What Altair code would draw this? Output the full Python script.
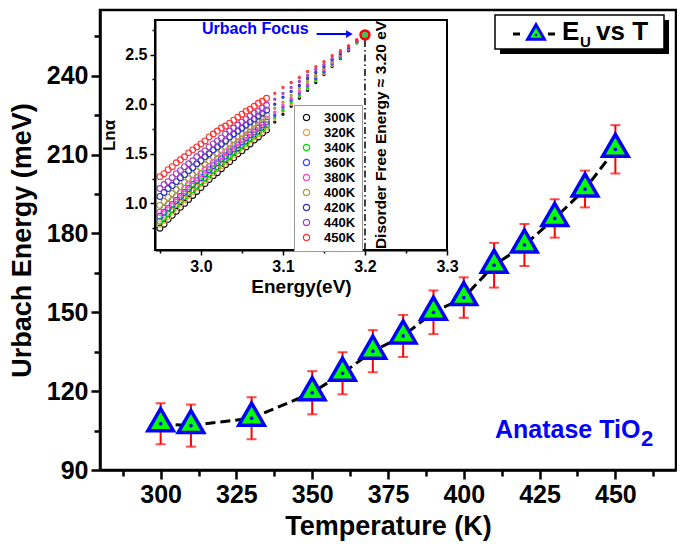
import altair as alt
import pandas as pd

# ---------------- main data ----------------
temperature = [300, 310, 330, 350, 360, 370, 380, 390, 400, 410, 420, 430, 440, 450]
urbach_energy = [107.6, 106.9, 109.7, 119.4, 126.8, 135.2, 141.0, 150.0, 155.6, 167.9, 175.6, 185.7, 196.9, 212.0]
urbach_err = [7.8, 8.0, 8.0, 8.2, 8.0, 8.0, 8.0, 8.3, 7.7, 8.5, 8.0, 7.3, 7.0, 9.2]

# ---------------- inset data ----------------
inset_labels = ["300K", "320K", "340K", "360K", "380K", "400K", "420K", "440K", "450K"]
inset_colors = ["#111111", "#F0A040", "#00E000", "#4040FF", "#FF40C0", "#A0A040", "#3030C0", "#A040C0", "#FF3030"]

energy_ev = [2.950, 2.955, 2.960, 2.965, 2.970, 2.975, 2.980, 2.985, 2.990, 2.995, 3.000, 3.005, 3.010,
             3.015, 3.020, 3.025, 3.030, 3.035, 3.040, 3.045, 3.050, 3.055, 3.060, 3.065, 3.070, 3.075, 3.080]
ln_300 = [0.75, 0.79, 0.84, 0.88, 0.92, 0.96, 1.00, 1.04, 1.08, 1.12, 1.16, 1.20, 1.24, 1.28, 1.31, 1.35, 1.39, 1.42, 1.46, 1.50, 1.53, 1.57, 1.60, 1.64, 1.67, 1.71, 1.74]
ln_320 = [0.79, 0.83, 0.87, 0.92, 0.96, 1.00, 1.04, 1.08, 1.12, 1.16, 1.20, 1.23, 1.27, 1.31, 1.35, 1.38, 1.42, 1.46, 1.49, 1.53, 1.57, 1.60, 1.64, 1.67, 1.70, 1.74, 1.77]
ln_340 = [0.82, 0.86, 0.90, 0.94, 0.99, 1.03, 1.07, 1.11, 1.14, 1.18, 1.22, 1.26, 1.30, 1.34, 1.37, 1.41, 1.45, 1.48, 1.52, 1.55, 1.59, 1.62, 1.66, 1.69, 1.72, 1.76, 1.79]
ln_360 = [0.87, 0.91, 0.95, 0.99, 1.03, 1.07, 1.11, 1.15, 1.19, 1.23, 1.26, 1.30, 1.34, 1.38, 1.41, 1.45, 1.48, 1.52, 1.55, 1.59, 1.62, 1.66, 1.69, 1.72, 1.76, 1.79, 1.82]
ln_380 = [0.91, 0.95, 0.99, 1.03, 1.07, 1.11, 1.15, 1.19, 1.23, 1.26, 1.30, 1.34, 1.37, 1.41, 1.45, 1.48, 1.52, 1.55, 1.59, 1.62, 1.65, 1.69, 1.72, 1.75, 1.79, 1.82, 1.85]
ln_400 = [0.98, 1.02, 1.06, 1.10, 1.14, 1.17, 1.21, 1.25, 1.29, 1.32, 1.36, 1.39, 1.43, 1.47, 1.50, 1.53, 1.57, 1.60, 1.64, 1.67, 1.70, 1.73, 1.77, 1.80, 1.83, 1.86, 1.89]
ln_420 = [1.07, 1.11, 1.15, 1.18, 1.22, 1.26, 1.29, 1.33, 1.36, 1.40, 1.43, 1.47, 1.50, 1.54, 1.57, 1.60, 1.63, 1.67, 1.70, 1.73, 1.76, 1.79, 1.82, 1.85, 1.88, 1.91, 1.94]
ln_440 = [1.15, 1.19, 1.22, 1.26, 1.30, 1.33, 1.37, 1.40, 1.43, 1.47, 1.50, 1.53, 1.57, 1.60, 1.63, 1.66, 1.70, 1.73, 1.76, 1.79, 1.82, 1.85, 1.88, 1.91, 1.93, 1.96, 1.99]
ln_450 = [1.27, 1.30, 1.34, 1.37, 1.41, 1.44, 1.47, 1.51, 1.54, 1.57, 1.60, 1.63, 1.67, 1.70, 1.73, 1.76, 1.78, 1.81, 1.84, 1.87, 1.90, 1.93, 1.95, 1.98, 2.01, 2.03, 2.06]
circle_series = [ln_300, ln_320, ln_340, ln_360, ln_380, ln_400, ln_420, ln_440, ln_450]

tail_ev = [3.09, 3.10, 3.11, 3.12, 3.13, 3.14, 3.15, 3.16, 3.17, 3.18, 3.19, 3.20]
tail_300 = [1.82, 1.90, 1.98, 2.06, 2.14, 2.22, 2.30, 2.38, 2.46, 2.54, 2.62, 2.70]
tail_320 = [1.85, 1.93, 2.00, 2.08, 2.16, 2.24, 2.31, 2.39, 2.47, 2.55, 2.62, 2.70]
tail_340 = [1.87, 1.94, 2.02, 2.09, 2.17, 2.25, 2.32, 2.40, 2.47, 2.55, 2.62, 2.70]
tail_360 = [1.89, 1.97, 2.04, 2.11, 2.19, 2.26, 2.33, 2.41, 2.48, 2.55, 2.63, 2.70]
tail_380 = [1.92, 1.99, 2.06, 2.13, 2.20, 2.28, 2.35, 2.42, 2.49, 2.56, 2.63, 2.70]
tail_400 = [1.96, 2.02, 2.09, 2.16, 2.23, 2.29, 2.36, 2.43, 2.50, 2.56, 2.63, 2.70]
tail_420 = [2.00, 2.07, 2.13, 2.19, 2.26, 2.32, 2.38, 2.45, 2.51, 2.57, 2.64, 2.70]
tail_440 = [2.05, 2.11, 2.17, 2.23, 2.29, 2.35, 2.40, 2.46, 2.52, 2.58, 2.64, 2.70]
tail_450 = [2.11, 2.17, 2.22, 2.27, 2.33, 2.38, 2.43, 2.49, 2.54, 2.59, 2.65, 2.70]
tail_series = [tail_300, tail_320, tail_340, tail_360, tail_380, tail_400, tail_420, tail_440, tail_450]

focus_ev = 3.20
focus_ln = 2.70

FONT = "Liberation Sans"
W, H = 576, 460

# ---------------- tables ----------------
main_df = pd.DataFrame({"T": temperature, "Eu": urbach_energy, "err": urbach_err})
main_df["lo"] = main_df["Eu"] - main_df["err"]
main_df["hi"] = main_df["Eu"] + main_df["err"]

circ_rows, tail_rows = [], []
for lab, vals in zip(inset_labels, circle_series):
    for e, v in zip(energy_ev, vals):
        circ_rows.append({"E": e, "L": v, "S": lab})
for lab, vals in zip(inset_labels, tail_series):
    for e, v in zip(tail_ev, vals):
        tail_rows.append({"E": e, "L": v, "S": lab})
circ_df = pd.DataFrame(circ_rows)
tail_df = pd.DataFrame(tail_rows)

# ---------------- main chart ----------------
xs = alt.Scale(domain=[280, 470], nice=False, zero=False)
ys = alt.Scale(domain=[90, 265], nice=False, zero=False)

x_axis = alt.Axis(
    values=[287.5 + 12.5 * i for i in range(15)],
    labelExpr="datum.value % 25 === 0 ? datum.label : ''",
    tickSize={"condition": {"test": "datum.value % 25 === 0", "value": 9}, "value": 6},
    tickWidth=2.5, domainWidth=2.5, labelFontSize=25, titleFontSize=27,
    labelPadding=3, titlePadding=6, labelOverlap=False, labelFlush=False,
    title="Temperature (K)", zindex=1,
)
y_axis = alt.Axis(
    values=[90 + 15 * i for i in range(12)],
    labelExpr="datum.value % 30 === 0 ? datum.label : ''",
    tickSize={"condition": {"test": "datum.value % 30 === 0", "value": 9}, "value": 6},
    tickWidth=2.5, domainWidth=2.5, labelFontSize=25, titleFontSize=27,
    labelPadding=3, titlePadding=10, labelOverlap=False, labelFlush=False,
    title="Urbach Energy (meV)", zindex=1,
)

base = alt.Chart(main_df)
line = base.mark_line(color="black", strokeWidth=3, strokeDash=[10, 5]).encode(
    x=alt.X("T:Q", scale=xs, axis=x_axis),
    y=alt.Y("Eu:Q", scale=ys, axis=y_axis),
)
err_rule = base.mark_rule(color="#FF0000", strokeWidth=2).encode(
    x=alt.X("T:Q", scale=xs), y=alt.Y("lo:Q", scale=ys), y2="hi:Q"
)
cap_lo = base.mark_tick(color="#FF0000", orient="horizontal", size=10, thickness=2).encode(
    x=alt.X("T:Q", scale=xs), y=alt.Y("lo:Q", scale=ys)
)
cap_hi = base.mark_tick(color="#FF0000", orient="horizontal", size=10, thickness=2).encode(
    x=alt.X("T:Q", scale=xs), y=alt.Y("hi:Q", scale=ys)
)
tri = base.mark_point(shape="triangle-up", size=650, filled=True, fill="#00FF00", stroke="#0000FF",
                      strokeWidth=3.5, opacity=1, fillOpacity=1, yOffset=-4).encode(
    x=alt.X("T:Q", scale=xs), y=alt.Y("Eu:Q", scale=ys)
)
dot = base.mark_point(shape="circle", size=14, filled=True, color="#0000FF", opacity=1).encode(
    x=alt.X("T:Q", scale=xs), y=alt.Y("Eu:Q", scale=ys)
)

one = pd.DataFrame({"k": [0]})
leg_shadow = alt.Chart(one).mark_rect(color="black").encode(
    x=alt.value(400), x2=alt.value(569), y=alt.value(10), y2=alt.value(44))
leg_box = alt.Chart(one).mark_rect(fill="white", stroke="black", strokeWidth=1.5).encode(
    x=alt.value(395), x2=alt.value(564), y=alt.value(5), y2=alt.value(39))
leg_dash1 = alt.Chart(one).mark_rule(color="black", strokeWidth=3).encode(
    x=alt.value(413), x2=alt.value(420), y=alt.value(24))
leg_dash2 = alt.Chart(one).mark_rule(color="black", strokeWidth=3).encode(
    x=alt.value(448), x2=alt.value(455), y=alt.value(24))
leg_tri = alt.Chart(one).mark_point(shape="triangle-up", size=280, filled=True, fill="#00FF00",
                                    stroke="#0000FF", strokeWidth=3, opacity=1).encode(
    x=alt.value(436), y=alt.value(22))
leg_dot = alt.Chart(one).mark_point(shape="circle", size=6, filled=True, color="#0000FF", opacity=1).encode(
    x=alt.value(436), y=alt.value(25))


def label(txt, x, y, size, color="black", align="left", baseline="alphabetic", angle=0):
    return alt.Chart(one).mark_text(text=txt, font=FONT, fontWeight="bold", fontSize=size, color=color,
                                    align=align, baseline=baseline, angle=angle).encode(
        x=alt.value(x), y=alt.value(y))


leg_E = label("E", 462, 30, 26)
leg_U = label("U", 480, 37, 15)
leg_vsT = label("vs T", 496, 30, 26)
ana = label("Anatase TiO", 395, 428, 25, color="#0000FF")
ana2 = label("2", 541, 436, 22, color="#0000FF")

main = alt.layer(line, err_rule, cap_lo, cap_hi, tri, dot,
                 leg_shadow, leg_box, leg_dash1, leg_dash2, leg_tri, leg_dot,
                 leg_E, leg_U, leg_vsT, ana, ana2)

# ---------------- inset ----------------
IX0, IX1, IY0, IY1 = 55, 347, 240, 10
ixs = alt.Scale(domain=[2.944, 3.3], range=[IX0, IX1], nice=False, zero=False)
iys = alt.Scale(domain=[0.53, 2.85], range=[IY0, IY1], nice=False, zero=False)

ix_axis = alt.Axis(
    orient="bottom", offset=IY0 - H,
    values=[2.95, 3.0, 3.05, 3.1, 3.15, 3.2, 3.25, 3.3],
    labelExpr="round(datum.value * 20) % 2 === 0 ? format(datum.value, '.1f') : ''",
    tickSize={"condition": {"test": "round(datum.value * 20) % 2 === 0", "value": 5}, "value": 3},
    tickWidth=1.5, domainWidth=2, labelFontSize=16, titleFontSize=19,
    labelPadding=3, titlePadding=3, labelOverlap=False, labelFlush=False,
    title="Energy(eV)", zindex=2,
)
iy_axis = alt.Axis(
    orient="left", offset=-IX0,
    values=[0.75, 1.0, 1.25, 1.5, 1.75, 2.0, 2.25, 2.5, 2.75],
    labelExpr="round(datum.value * 4) % 2 === 0 ? format(datum.value, '.1f') : ''",
    tickSize={"condition": {"test": "round(datum.value * 4) % 2 === 0", "value": 5}, "value": 3},
    tickWidth=1.5, domainWidth=2, labelFontSize=16, titleFontSize=17,
    labelPadding=3, titlePadding=6, labelOverlap=False, labelFlush=False,
    title="Lnα", zindex=2,
)

frame_df = pd.DataFrame({"E0": [2.944], "E1": [3.3], "L0": [0.53], "L1": [2.85]})
frame = alt.Chart(frame_df).mark_rect(fill="white", stroke="black", strokeWidth=2).encode(
    x=alt.X("E0:Q", scale=ixs, axis=ix_axis), x2="E1:Q",
    y=alt.Y("L0:Q", scale=iys, axis=iy_axis), y2="L1:Q",
)

color_scale = alt.Scale(domain=inset_labels, range=inset_colors)
circles = alt.Chart(circ_df).mark_point(filled=False, size=34, strokeWidth=1.1, opacity=1).encode(
    x=alt.X("E:Q", scale=ixs), y=alt.Y("L:Q", scale=iys),
    color=alt.Color("S:N", scale=color_scale, legend=alt.Legend(
        orient="none", legendX=194, legendY=95, title=None, zindex=2,
        fillColor="white", strokeColor="#999999", padding=6, rowPadding=1,
        labelFont=FONT, labelFontWeight="bold", labelFontSize=13, labelColor="black", labelOffset=11,
        symbolType="circle", symbolSize=40, symbolStrokeWidth=1.2)),
)
tails = alt.Chart(tail_df).mark_point(filled=False, size=2, strokeWidth=2, opacity=1).encode(
    x=alt.X("E:Q", scale=ixs), y=alt.Y("L:Q", scale=iys),
    color=alt.Color("S:N", scale=color_scale),
)

lshadow = alt.Chart(one).mark_rect(color="black").encode(
    x=alt.value(198), x2=alt.value(260), y=alt.value(99), y2=alt.value(236))

vline_df = pd.DataFrame({"E": [focus_ev], "L0": [0.53], "L1": [focus_ln - 0.05]})
vline = alt.Chart(vline_df).mark_rule(color="black", strokeWidth=1.5, strokeDash=[7, 3, 1.5, 3]).encode(
    x=alt.X("E:Q", scale=ixs), y=alt.Y("L0:Q", scale=iys), y2="L1:Q")

focus_df = pd.DataFrame({"E": [focus_ev], "L": [focus_ln]})
focus = alt.Chart(focus_df).mark_point(shape="circle", size=80, filled=True, fill="#40C060",
                                       stroke="#FF0000", strokeWidth=2.5, opacity=1, fillOpacity=1).encode(
    x=alt.X("E:Q", scale=ixs), y=alt.Y("L:Q", scale=iys))

arrow_df = pd.DataFrame({"E": [3.141], "E2": [3.181], "L": [2.708]})
arrow_line = alt.Chart(arrow_df).mark_rule(color="#0000FF", strokeWidth=2).encode(
    x=alt.X("E:Q", scale=ixs), x2="E2:Q", y=alt.Y("L:Q", scale=iys))
arrow_head = alt.Chart(arrow_df).mark_point(shape="triangle-right", size=60, filled=True,
                                            color="#0000FF", opacity=1).encode(
    x=alt.X("E2:Q", scale=ixs), y=alt.Y("L:Q", scale=iys))

focus_txt = label("Urbach Focus", 102, 24, 16, color="#0000FF")
disorder_txt = label("Disorder Free Energy ≈ 3.20 eV", 281, 125, 15.5, align="center",
                     baseline="middle", angle=270)

inset = alt.layer(frame, lshadow, circles, tails, vline, focus, arrow_line, arrow_head,
                  focus_txt, disorder_txt)

chart = alt.layer(main, inset).resolve_scale(
    x="independent", y="independent"
).properties(
    width=W, height=H,
    padding={"left": 92, "top": 2, "right": 1, "bottom": 71},
    autosize=alt.AutoSizeParams(type="none"),
).configure_view(
    stroke="black", strokeWidth=2.5
).configure_axis(
    labelFont=FONT, titleFont=FONT, labelFontWeight="bold", titleFontWeight="bold",
    labelColor="black", titleColor="black", domainColor="black", tickColor="black", grid=False,
)

chart.save("out.html", embed_options={"renderer": "svg", "actions": False})
